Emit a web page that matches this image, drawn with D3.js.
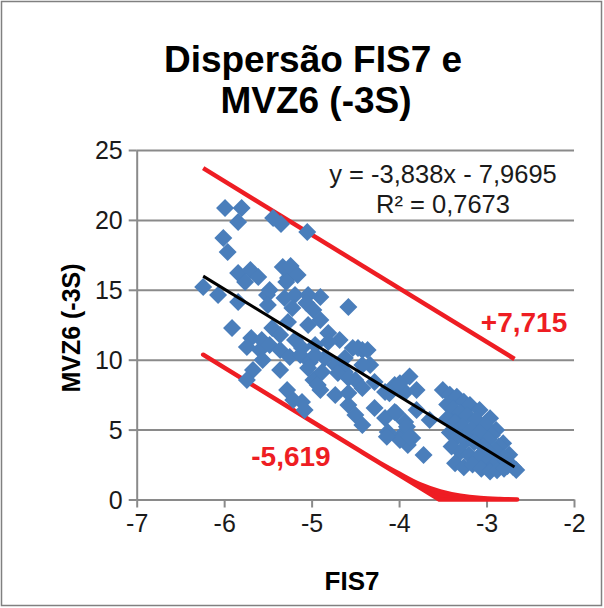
<!DOCTYPE html>
<html><head><meta charset="utf-8">
<script src="https://cdn.jsdelivr.net/npm/d3@7"></script>
<style>body{margin:0;background:#fff}svg{display:block}text{font-family:"Liberation Sans",Arial,sans-serif}</style>
</head><body><svg id="c" width="604" height="608"></svg>
<script>
const titleLines = ["Dispersão FIS7 e", "MVZ6 (-3S)"];
const xLabel = "FIS7";
const yLabel = "MVZ6 (-3S)";
const xTicks = [-7, -6, -5, -4, -3, -2];
const yTicks = [0, 5, 10, 15, 20, 25];
const eqLines = ["y = -3,838x - 7,9695", "R² = 0,7673"];
const upperLabel = "+7,715";
const lowerLabel = "-5,619";

// scatter points (FIS7, MVZ6)
const fis7 = [
 -5.99,-5.80,-5.84,-5.44,-5.35,-6.01,-5.96,-5.05,
 -5.84,-5.70,-5.61,-5.76,-5.33,-5.24,-5.27,-5.16,-5.29,-6.24,-6.07,-5.84,-5.51,-5.48,-5.31,-5.19,-4.90,-5.04,-5.50,-5.22,-4.58,-5.06,-4.98,-4.90,-5.91,
 -5.69,-5.45,-5.27,-5.04,-4.81,-5.57,-5.36,-5.19,-4.96,-4.68,-4.53,-4.42,-5.74,-5.59,-5.48,-5.36,-5.25,-5.13,-5.02,-4.85,-4.73,-5.67,-5.56,-5.36,-5.74,-5.28,-5.21,-5.08,-4.98,-4.90,-4.62,-4.50,-4.33,
 -4.81,-5.11,-4.96,-4.47,-4.36,-4.62,-4.42,-5.04,-4.88,-4.70,-4.58,-4.93,-4.73,-4.58,-4.42,-4.28,-4.16,-4.05,-3.93,-5.11,-4.58,-4.50,-4.42,-4.28,-4.16,-4.13,-4.05,-3.93,-3.97,-3.85,-3.90,
 -3.88,-3.99,-3.80,-4.11,-3.65,-3.80,-3.91,-4.03,-3.72,-3.99,-3.88,-4.14,
 -3.50,-3.42,-3.34,-3.26,-3.19,-3.08,-2.96,-2.89,-2.81,-2.74,-2.70,-2.66,
 -3.45,-3.38,-3.30,-3.22,-3.12,-3.02,-2.94,-2.86,
 -3.45,-3.36,-3.28,-3.18,-3.08,-2.98,-2.90,-2.80,
 -3.42,-3.33,-3.24,-3.14,-3.04,-2.95,-2.85,-2.76,
 -3.40,-3.30,-3.20,-3.10,-3.00,-2.92,
 -3.36,-3.26,-3.16,-3.06,-2.96,-2.88,-2.80
];
const mvz6 = [
 20.85,20.85,19.85,20.13,19.70,18.71,17.70,19.13,
 16.20,16.42,15.92,15.56,16.63,16.70,15.84,16.06,15.56,15.20,14.63,14.13,14.63,14.99,14.41,14.63,14.48,14.63,13.91,13.70,13.77,14.06,13.55,12.84,12.27,
 11.55,12.27,12.70,12.48,11.91,11.41,11.77,11.41,11.05,11.41,10.84,10.69,10.91,10.69,11.05,10.69,10.19,10.34,9.83,10.12,9.62,9.26,9.98,9.26,8.55,7.83,7.12,6.40,8.55,7.83,9.12,8.55,9.62,
 11.27,10.84,10.34,10.84,10.69,10.12,9.62,9.41,9.12,9.05,8.69,8.19,7.48,7.62,7.98,8.41,7.69,8.19,7.69,6.97,6.76,6.04,5.33,6.55,5.83,4.83,6.26,5.54,4.61,4.40,3.90,
 8.79,8.31,7.83,7.60,5.69,6.40,5.21,6.17,3.18,4.26,4.49,4.49,
 7.83,7.50,7.35,7.00,6.76,6.40,5.81,4.97,4.02,3.20,2.35,2.11,
 6.80,6.50,6.20,6.00,5.70,5.30,4.60,3.80,
 5.80,5.50,5.20,5.00,4.80,4.30,3.50,3.00,
 4.80,4.50,4.20,4.10,3.80,3.20,2.60,2.40,
 3.80,3.40,3.20,3.00,2.70,2.40,
 2.60,2.30,2.50,2.20,2.00,2.10,2.20
];

// trend line and band lines (endpoints / read-off points)
const trendX = [-6.24, -2.68];
const trendY = [15.98, 2.32];
const upperX = [-6.24, -2.68];
const upperY = [23.70, 10.05];
const lowerTopX = [-6.24, -5.0, -4.5, -4.22, -4.0, -3.76, -3.53, -3.30, -3.07, -2.85, -2.65];
const lowerTopY = [10.36, 5.60, 3.68, 2.62, 1.86, 1.08, 0.58, 0.27, 0.10, 0.03, 0.0];
const lowerBotX = [-6.24, -3.54, -2.65];
const lowerBotY = [10.36, 0.0, 0.0];

const svg = d3.select("#c");
svg.append("rect").attr("x",0).attr("y",0).attr("width",604).attr("height",608).attr("fill","#fff");
svg.append("rect").attr("x",1.5).attr("y",1.5).attr("width",600).attr("height",604)
  .attr("fill","none").attr("stroke","#808080").attr("stroke-width",1.5);

const L = 136.7, R = 574, T = 150, B = 499.5;
const x = d3.scaleLinear().domain([-7,-2]).range([L,R]);
const y = d3.scaleLinear().domain([0,25]).range([B,T]);
const gridColor = "#8a8a8a";
const font = "Liberation Sans, Arial, sans-serif";

// gridlines
const grid = svg.append("g").attr("transform",`translate(${L},0)`)
  .call(d3.axisLeft(y).tickValues(yTicks.filter(v=>v>0)).tickSizeInner(-(R-L)).tickSizeOuter(0).tickFormat(""));
grid.select(".domain").remove();
grid.selectAll("line").attr("stroke",gridColor).attr("stroke-width",2);

// y axis
const ya = svg.append("g").attr("transform",`translate(${L},0)`)
  .call(d3.axisLeft(y).tickValues(yTicks).tickSizeInner(8).tickSizeOuter(0).tickPadding(6));
ya.select(".domain").attr("stroke",gridColor).attr("stroke-width",2);
ya.selectAll("line").attr("stroke",gridColor).attr("stroke-width",2);
ya.selectAll("text").attr("font-size",25).attr("fill","#1a1a1a").attr("dy","0.35em")
  .attr("font-family",font);

// x axis
const xa = svg.append("g").attr("transform",`translate(0,${B})`)
  .call(d3.axisBottom(x).tickValues(xTicks).tickSizeInner(8).tickSizeOuter(0).tickPadding(7)
    .tickFormat(d=>d3.format("d")(d).replace("−","-")));
xa.select(".domain").attr("stroke",gridColor).attr("stroke-width",2);
xa.selectAll("line").attr("stroke",gridColor).attr("stroke-width",2);
xa.selectAll("text").attr("font-size",25).attr("fill","#1a1a1a")
  .attr("font-family",font);

const red = "#ee1d23";
const line = d3.line().x(d=>x(d[0])).y(d=>y(d[1]));

// upper red line
svg.append("path").datum(upperX.map((v,i)=>[v,upperY[i]]))
  .attr("d",line).attr("fill","none").attr("stroke",red).attr("stroke-width",4.5);
// lower red band: curved top edge + straight bottom edge (clipped at 0)
const topPts = lowerTopX.map((v,i)=>[v,lowerTopY[i]]);
const botPts = lowerBotX.map((v,i)=>[v,lowerBotY[i]]);
const curve = d3.line().x(d=>x(d[0])).y(d=>y(d[1])).curve(d3.curveMonotoneX);
const botRev = botPts.slice().reverse();
const bandPath = curve(topPts) + botRev.map(d=>"L" + x(d[0]) + "," + y(d[1])).join("") + "Z";
svg.append("path").attr("d", bandPath)
  .attr("fill",red).attr("stroke",red).attr("stroke-width",4.5).attr("stroke-linejoin","round");

// points
const diamond = "M0,-9L9,0L0,9L-9,0Z";
svg.append("g").selectAll("path").data(fis7.map((v,i)=>[v,mvz6[i]])).join("path")
  .attr("d",diamond).attr("transform",d=>`translate(${x(d[0])},${y(d[1])})`)
  .attr("fill","#4a7ebb");

// trend line
svg.append("path").datum(trendX.map((v,i)=>[v,trendY[i]]))
  .attr("d",line).attr("fill","none").attr("stroke","#000").attr("stroke-width",3);

// title
const tt = svg.append("text").attr("text-anchor","middle").attr("font-weight","bold")
  .attr("font-size",37).attr("fill","#000");
tt.append("tspan").attr("x",313).attr("y",72).text(titleLines[0]);
tt.append("tspan").attr("x",316).attr("y",113).text(titleLines[1]);

// equation
svg.append("text").attr("x",443).attr("y",183).attr("text-anchor","middle").attr("font-size",25.5)
  .attr("fill","#1a1a1a").text(eqLines[0]);
svg.append("text").attr("x",443).attr("y",213).attr("text-anchor","middle").attr("font-size",25.5)
  .attr("fill","#1a1a1a").text(eqLines[1]);

// band labels
svg.append("text").attr("x",524).attr("y",332).attr("text-anchor","middle").attr("font-size",28)
  .attr("font-weight","bold").attr("fill",red).text(upperLabel);
svg.append("text").attr("x",291).attr("y",466).attr("text-anchor","middle").attr("font-size",28)
  .attr("font-weight","bold").attr("fill",red).text(lowerLabel);

// axis titles
svg.append("text").attr("x",352).attr("y",590).attr("text-anchor","middle").attr("font-size",26)
  .attr("font-weight","bold").attr("fill","#000").text(xLabel);
svg.append("text").attr("transform","translate(80,328) rotate(-90)").attr("text-anchor","middle")
  .attr("font-size",25).attr("font-weight","bold").attr("fill","#000").text(yLabel);
</script></body></html>
